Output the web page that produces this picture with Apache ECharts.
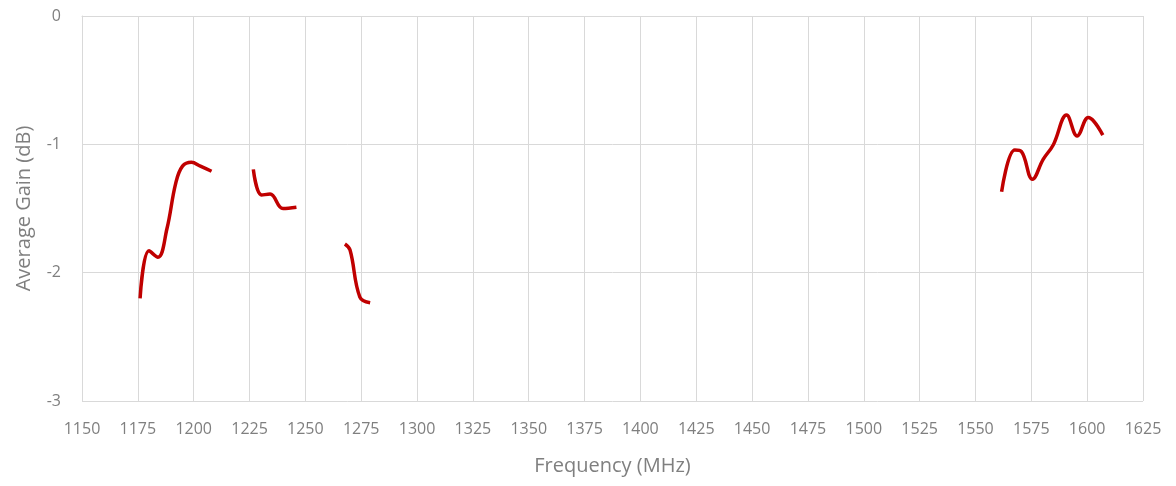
<!DOCTYPE html>
<html>
<head>
<meta charset="utf-8">
<script src="https://cdn.jsdelivr.net/npm/echarts@6/dist/echarts.min.js"></script>
<style>
  html, body { margin: 0; padding: 0; background: #fff; }
  #chart { width: 1176px; height: 486px; }
</style>
</head>
<body>
<div id="chart"></div>
<script>
// measured bands, null breaks the line between them
const freqs = [
  1176, 1180, 1184, 1188, 1192, 1195, 1199, 1203, 1208, null,
  1226.7, 1230.4, 1234.2, 1240, 1246, null,
  1267.7, 1270, 1274.4, 1279, null,
  1561.7, 1567.6, 1570.6, 1575.5, 1580.3, 1584.8, 1590.8, 1595.5, 1600.5, 1607
];
const gains = [
  -2.20, -1.83, -1.88, -1.66, -1.30, -1.17, -1.14, -1.17, -1.21, null,
  -1.195, -1.395, -1.387, -1.50, -1.49, null,
  -1.777, -1.824, -2.19, -2.235, null,
  -1.369, -1.044, -1.057, -1.273, -1.117, -1.005, -0.772, -0.935, -0.79, -0.928
];

const xTicks = { min: 1150, max: 1625, step: 25 };
const yTicks = { min: -3, max: 0, step: 1 };

const labelColor = '#7f7f7f';
const gridColor = '#d9d9d9';
const font = '"Open Sans", "Liberation Sans", sans-serif';

const chart = echarts.init(document.getElementById('chart'));

const points = freqs.map((f, i) => (f === null ? [null, null] : [f, gains[i]]));

chart.setOption({
  animation: false,
  grid: { left: 82, right: 33, top: 16, bottom: 85, outerBoundsMode: 'none', containLabel: false },
  xAxis: {
    type: 'value',
    min: xTicks.min,
    max: xTicks.max,
    interval: xTicks.step,
    name: 'Frequency (MHz)',
    nameLocation: 'middle',
    nameGap: 55,
    nameTextStyle: { color: labelColor, fontSize: 20, fontFamily: font },
    axisLine: { show: true, lineStyle: { color: gridColor } },
    axisTick: { show: false },
    axisLabel: { color: labelColor, fontSize: 16, fontFamily: font, margin: 20, formatter: v => String(v) },
    splitLine: { show: true, lineStyle: { color: gridColor, width: 1 } }
  },
  yAxis: {
    type: 'value',
    min: yTicks.min,
    max: yTicks.max,
    interval: yTicks.step,
    name: 'Average Gain (dB)',
    nameLocation: 'middle',
    nameGap: 48,
    nameTextStyle: { color: labelColor, fontSize: 20, fontFamily: font },
    axisLine: { show: true, lineStyle: { color: gridColor } },
    axisTick: { show: false },
    axisLabel: { color: labelColor, fontSize: 16, fontFamily: font, margin: 21, formatter: v => String(v) },
    splitLine: { show: true, lineStyle: { color: gridColor, width: 1 } }
  },
  series: [
    {
      type: 'line',
      data: points,
      smooth: 0.4,
      connectNulls: false,
      showSymbol: false,
      lineStyle: { color: '#c00000', width: 3.5 }
    }
  ]
});
</script>
</body>
</html>
